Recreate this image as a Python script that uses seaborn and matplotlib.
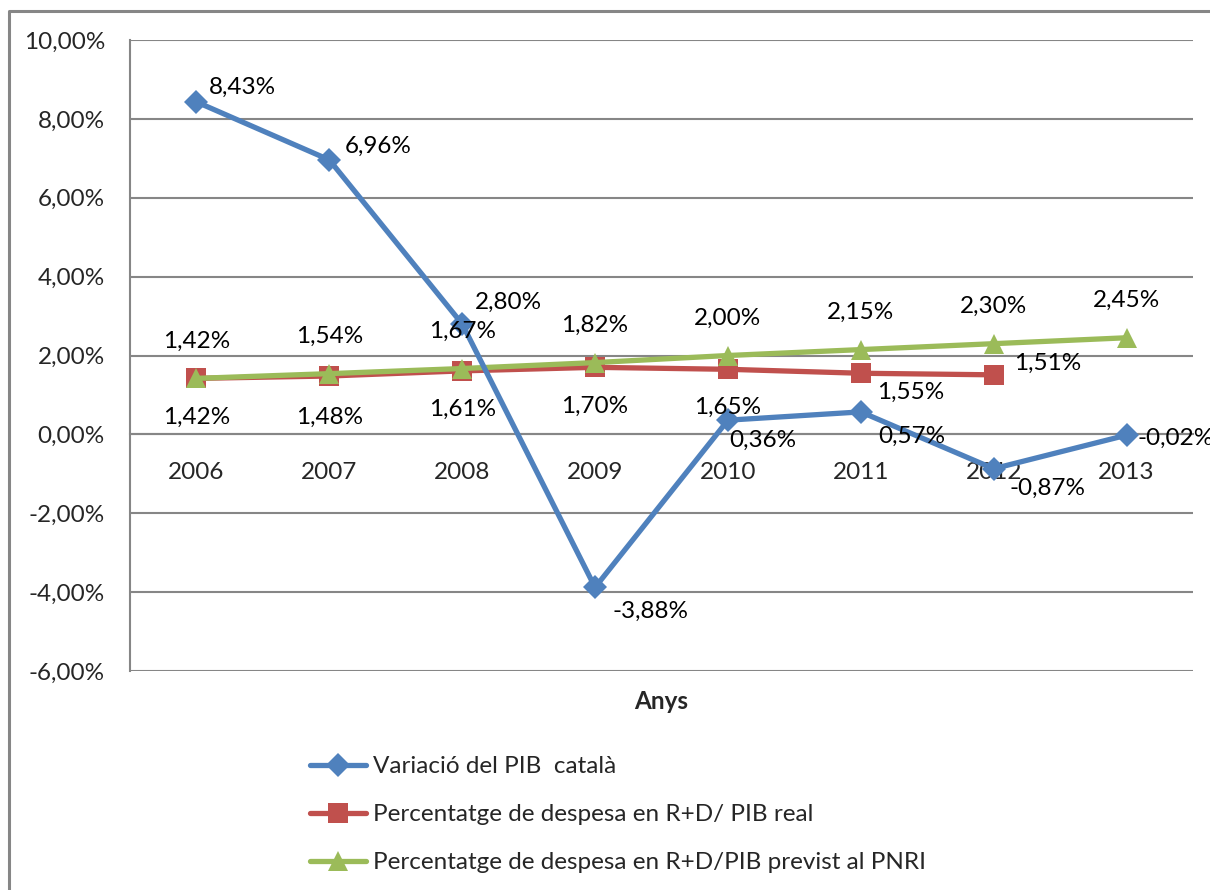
import numpy as np
import pandas as pd
import seaborn as sns
import matplotlib.pyplot as plt
from matplotlib.lines import Line2D

sns.set_theme(style="white")
plt.rcParams['font.family'] = ['Lato', 'DejaVu Sans']

# data ---------------------------------------------------------------------
years = ['2006', '2007', '2008', '2009', '2010', '2011', '2012', '2013']
pib_var = [8.43, 6.96, 2.80, -3.88, 0.36, 0.57, -0.87, -0.02]
rd_real = [1.42, 1.48, 1.61, 1.70, 1.65, 1.55, 1.51]
rd_pnri = [1.42, 1.54, 1.67, 1.82, 2.00, 2.15, 2.30, 2.45]
yticks = [-6, -4, -2, 0, 2, 4, 6, 8, 10]

names = ['Variació del PIB  català',
         'Percentatge de despesa en R+D/ PIB real',
         'Percentatge de despesa en R+D/PIB previst al PNRI']

# label offsets in pixels (dx, dy)
pib_off = [(46, 15), (49, 14), (46, 22), (55, -24), (35, -20), (51, -24), (54, -20), (49, -3)]
real_off = [(0, -39), (0, -41), (0, -38), (0, -39), (0, -38), (50, -19), (54, 11)]
pnri_off = [(0, 37)] * 8

blue, red, green = '#4F81BD', '#C0504D', '#9BBB59'
grey = '#868686'
fs = 17.5


def pct(v):
    return f"{v:.2f}%".replace('.', ',')


fig = plt.figure(figsize=(12.1, 8.9), dpi=100)
ax = fig.add_axes([130 / 1210, 1 - 671 / 890, (1193 - 130) / 1210, (671 - 40) / 890])

# spine position first: it resets the tick settings
for s in ['top', 'right']:
    ax.spines[s].set_visible(False)
ax.spines['bottom'].set_position(('data', 0))
for s in ['left', 'bottom']:
    ax.spines[s].set_color(grey)
    ax.spines[s].set_linewidth(1.5)

x_all = np.arange(len(years))
sns.lineplot(x=x_all[:len(rd_real)], y=rd_real, ax=ax, color=red, lw=3.8, marker='s',
             markersize=14, markeredgewidth=0, label=names[1], zorder=3)
sns.lineplot(x=x_all, y=rd_pnri, ax=ax, color=green, lw=3.8, marker='^',
             markersize=15, markeredgewidth=0, label=names[2], zorder=4)
sns.lineplot(x=x_all, y=pib_var, ax=ax, color=blue, lw=3.8, marker='D',
             markersize=12, markeredgewidth=0, label=names[0], zorder=5)

for vals, offs in [(pib_var, pib_off), (rd_real, real_off), (rd_pnri, pnri_off)]:
    for i, (v, o) in enumerate(zip(vals, offs)):
        ax.annotate(pct(v), (i, v), xytext=o, textcoords='offset pixels',
                    ha='center', va='center', fontsize=fs, color='black', zorder=6)

ax.set_xlim(-0.5, len(years) - 0.5)
ax.set_ylim(-6, 10)
ax.set_yticks(yticks)
ax.set_yticklabels([pct(t) for t in yticks], fontsize=fs)
ax.set_xticks(x_all)
ax.set_xticklabels(years, fontsize=fs)
ax.yaxis.grid(True, color=grey, lw=1.5)
ax.set_axisbelow(True)
ax.tick_params(axis='y', length=0, pad=18)
ax.tick_params(axis='x', direction='inout', length=12, width=1.5, color=grey, pad=14)

ax.set_xlabel('Anys', fontsize=fs, fontweight='bold', labelpad=0)
ax.xaxis.set_label_coords(0.5, -0.03)
ax.set_ylabel('')

h, l = ax.get_legend_handles_labels()
order = [2, 0, 1]
ax.legend([h[i] for i in order], [l[i] for i in order], loc='upper left',
          bbox_to_anchor=(310 / 1210, 1 - 756 / 890), bbox_transform=fig.transFigure,
          frameon=False, fontsize=fs, handlelength=2.3, handletextpad=0.3,
          labelspacing=1.12, borderpad=0, borderaxespad=0)

# outer chart border (cut off on right and bottom)
fig.add_artist(Line2D([9 / 1210, 9 / 1210, 1.01], [-0.01, 1 - 11 / 890, 1 - 11 / 890],
                      transform=fig.transFigure, color=grey, lw=2.2))

fig.savefig('out.png', dpi=100)
